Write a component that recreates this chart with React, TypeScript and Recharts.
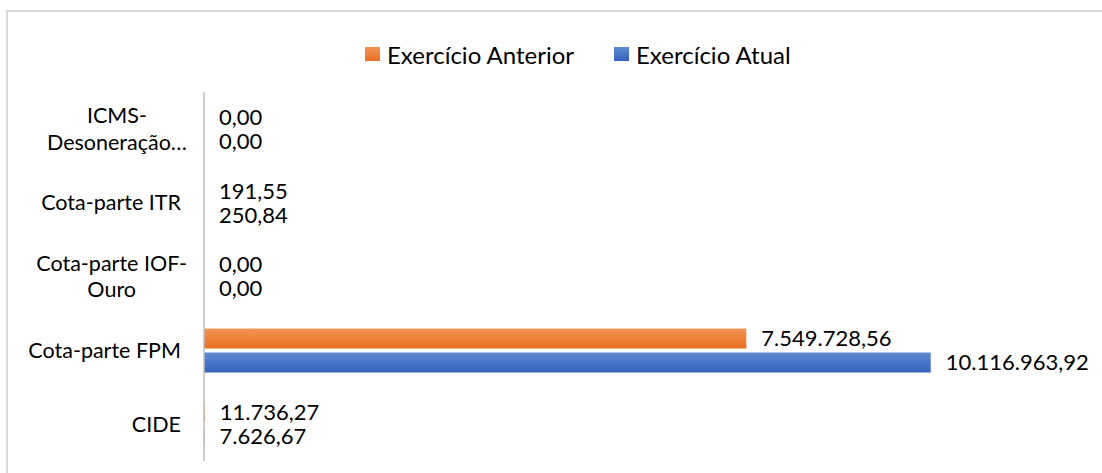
import React from 'react';
import { BarChart, Bar, XAxis, YAxis, LabelList } from 'recharts';

const categories = ['ICMS-Desoneração…', 'Cota-parte ITR', 'Cota-parte IOF-Ouro', 'Cota-parte FPM', 'CIDE'];
const categoryLines = [['ICMS-', 'Desoneração…'], ['Cota-parte ITR'], ['Cota-parte IOF-', 'Ouro'], ['Cota-parte FPM'], ['CIDE']];
const anterior = [0, 191.55, 0, 7549728.56, 11736.27];
const atual = [0, 250.84, 0, 10116963.92, 7626.67];
const xTicks = [0, 2000000, 4000000, 6000000, 8000000, 10000000, 12000000];

const FONT = 'Lato, "Open Sans", sans-serif';

const data = categories.map((name, i) => ({ name, anterior: anterior[i], atual: atual[i] }));

function fmt(v: number) {
  const [int, dec] = v.toFixed(2).split('.');
  return int.replace(/\B(?=(\d{3})+(?!\d))/g, '.') + ',' + dec;
}

let ctx: CanvasRenderingContext2D | null = null;
function textWidth(s: string, size: number) {
  if (!ctx) ctx = document.createElement('canvas').getContext('2d');
  if (!ctx) return s.length * size * 0.5;
  ctx.font = `${size}px ${FONT}`;
  return ctx.measureText(s).width;
}

// y-axis labels: single lines right-aligned, wrapped ones centred on the widest line
const CategoryTick = (props: any) => {
  const { x, y, index } = props;
  const lines: string[] = categoryLines[index] ?? [props.payload.value];
  const size = 21.5;
  const lh = 26.5;
  if (lines.length === 1) {
    return (
      <text x={x} y={y} dy="0.35em" textAnchor="end" fontSize={size} fontFamily={FONT} fill="#000">
        {lines[0]}
      </text>
    );
  }
  const maxW = Math.max(...lines.map(l => textWidth(l, size)));
  const cx = x - maxW / 2 + 6;
  const top = y - ((lines.length - 1) * lh) / 2;
  return (
    <text textAnchor="middle" fontSize={size} fontFamily={FONT} fill="#000">
      {lines.map((l, i) => (
        <tspan key={i} x={cx} y={top + i * lh} dy="0.35em">{l}</tspan>
      ))}
    </text>
  );
};

const legendItems = [
  { label: 'Exercício Anterior', from: '#F29456', to: '#E96F1E', left: 365 },
  { label: 'Exercício Atual', from: '#5E89D3', to: '#3563BD', left: 614 },
];

const labelStyle = { fontSize: 22, fontFamily: FONT, fill: '#000' };

export default function App() {
  return (
    <div style={{ position: 'absolute', left: 0, top: 0, width: 1102, height: 473, background: '#fff', overflow: 'hidden' }}>
      <div style={{ position: 'absolute', left: 6, top: 10, width: 1200, height: 600, borderTop: '2px solid #d9d9d9', borderLeft: '2px solid #d9d9d9' }} />
      {legendItems.map(it => (
        <div key={it.label} style={{ position: 'absolute', left: it.left, top: 38, height: 32, display: 'flex', alignItems: 'center', fontFamily: FONT, fontSize: 24, color: '#000', whiteSpace: 'nowrap' }}>
          <span style={{ display: 'inline-block', width: 15, height: 14, marginRight: 7, background: `linear-gradient(${it.from}, ${it.to})` }} />
          <span>{it.label}</span>
        </div>
      ))}
      <div style={{ position: 'absolute', left: 0, top: 0 }}>
        <BarChart
          width={1102}
          height={473}
          data={data}
          layout="vertical"
          margin={{ top: 92, right: 36, bottom: 12, left: 0 }}
          barCategoryGap={15}
          barGap={4}
        >
          <defs>
            <linearGradient id="gOrange" x1="0" y1="0" x2="0" y2="1">
              <stop offset="0%" stopColor="#F29456" />
              <stop offset="100%" stopColor="#E96F1E" />
            </linearGradient>
            <linearGradient id="gBlue" x1="0" y1="0" x2="0" y2="1">
              <stop offset="0%" stopColor="#5E89D3" />
              <stop offset="100%" stopColor="#3563BD" />
            </linearGradient>
          </defs>
          <XAxis type="number" domain={[0, 12000000]} ticks={xTicks} hide />
          <YAxis
            type="category"
            dataKey="name"
            width={204}
            tickLine={false}
            tickSize={0}
            tickMargin={23}
            axisLine={{ stroke: '#BFBFBF', strokeWidth: 1.5 }}
            tick={<CategoryTick />}
            interval={0}
          />
          {/* minPointSize keeps the zero-value entries so their 0,00 labels still render */}
          <Bar dataKey="anterior" name="Exercício Anterior" fill="url(#gOrange)" minPointSize={0.01} isAnimationActive={false}>
            <LabelList dataKey="anterior" position="right" offset={15} formatter={(v: any) => fmt(Number(v))} style={labelStyle} />
          </Bar>
          <Bar dataKey="atual" name="Exercício Atual" fill="url(#gBlue)" minPointSize={0.01} isAnimationActive={false}>
            <LabelList dataKey="atual" position="right" offset={15} formatter={(v: any) => fmt(Number(v))} style={labelStyle} />
          </Bar>
        </BarChart>
      </div>
    </div>
  );
}
